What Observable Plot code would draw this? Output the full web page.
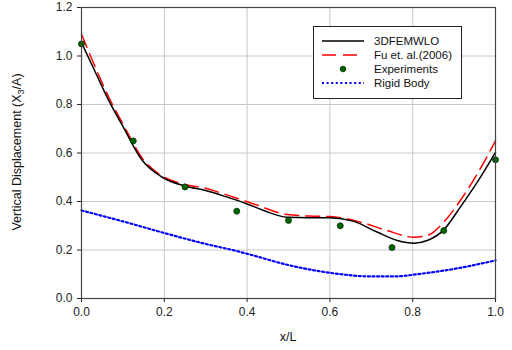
<!DOCTYPE html>
<html>
<head>
<meta charset="utf-8">
<script src="https://cdn.jsdelivr.net/npm/d3@7"></script>
<script src="https://cdn.jsdelivr.net/npm/@observablehq/plot@0.6"></script>
<style>
  html, body { margin: 0; padding: 0; background: #fff; }
  #wrap { position: relative; width: 512px; height: 350px; font-family: Arial, "Liberation Sans", sans-serif; }
  #legend { position: absolute; left: 0; top: 0; }
</style>
</head>
<body>
<div id="wrap"></div>
<script>
// 3DFEMWLO (solid black)
const femX = [0, 0.033, 0.066, 0.1, 0.147, 0.195, 0.25, 0.30, 0.348, 0.40, 0.44, 0.497, 0.55, 0.60, 0.658, 0.714, 0.763, 0.803, 0.835, 0.875, 0.915, 0.956, 1.0];
const femY = [1.055, 0.935, 0.816, 0.71, 0.569, 0.50, 0.464, 0.445, 0.42, 0.39, 0.363, 0.335, 0.333, 0.333, 0.318, 0.274, 0.239, 0.228, 0.239, 0.283, 0.377, 0.48, 0.603];
// Fu et. al.(2006) (red dashed)
const fuX = [0, 0.033, 0.066, 0.1, 0.147, 0.195, 0.25, 0.30, 0.344, 0.416, 0.497, 0.55, 0.60, 0.674, 0.738, 0.803, 0.835, 0.875, 0.915, 0.956, 1.0];
const fuY = [1.09, 0.955, 0.83, 0.72, 0.578, 0.505, 0.47, 0.455, 0.431, 0.39, 0.346, 0.34, 0.338, 0.315, 0.28, 0.253, 0.26, 0.315, 0.404, 0.514, 0.65];
// Experiments (green dots)
const expX = [0, 0.125, 0.25, 0.375, 0.5, 0.625, 0.75, 0.875, 1.0];
const expY = [1.05, 0.65, 0.46, 0.36, 0.322, 0.30, 0.21, 0.28, 0.572];
// Rigid Body (blue dotted)
const rigX = [0, 0.1, 0.2, 0.3, 0.379, 0.416, 0.497, 0.6, 0.7, 0.754, 0.819, 0.9, 1.0];
const rigY = [0.363, 0.318, 0.27, 0.225, 0.194, 0.177, 0.139, 0.106, 0.091, 0.091, 0.102, 0.122, 0.157];

const xTicks = [0, 0.2, 0.4, 0.6, 0.8, 1.0];
const yTicks = [0, 0.2, 0.4, 0.6, 0.8, 1.0, 1.2];
const xGrid = [0.2, 0.4, 0.6, 0.8];
const yGrid = [0.2, 0.4, 0.6, 0.8, 1.0];

const legendNames = ["3DFEMWLO", "Fu et. al.(2006)", "Experiments", "Rigid Body"];
const xTitle = "x/L";
const yTitleParts = ["Vertical Displacement (X", "3", "/A)"];

const zip = (xs, ys) => xs.map((x, i) => ({x, y: ys[i]}));
const fem = zip(femX, femY), fu = zip(fuX, fuY), exp = zip(expX, expY), rig = zip(rigX, rigY);

const chart = Plot.plot({
  width: 512,
  height: 350,
  marginLeft: 81,
  marginRight: 17,
  marginTop: 7,
  marginBottom: 52,
  style: {fontFamily: "Arial, 'Liberation Sans', sans-serif", fontSize: "12px", color: "#222", background: "#fff"},
  x: {domain: [0, 1], ticks: xTicks, tickFormat: d3.format(".1f"), tickSize: 4, tickPadding: 5, label: null},
  y: {domain: [0, 1.2], ticks: yTicks, tickFormat: d3.format(".1f"), tickSize: 4, tickPadding: 5, label: null},
  marks: [
    Plot.ruleX(xGrid, {stroke: "#c8c8c8", strokeWidth: 1}),
    Plot.ruleY(yGrid, {stroke: "#c8c8c8", strokeWidth: 1}),
    Plot.line(rig, {x: "x", y: "y", stroke: "#0000ff", strokeWidth: 2.2, strokeDasharray: "2,2.6", curve: "monotone-x"}),
    Plot.line(fu, {x: "x", y: "y", stroke: "#ff0000", strokeWidth: 1.5, strokeDasharray: "14,7", curve: "monotone-x"}),
    Plot.line(fem, {x: "x", y: "y", stroke: "#000", strokeWidth: 1.5, curve: "monotone-x"}),
    Plot.dot(exp, {x: "x", y: "y", r: 3, fill: "#006400", stroke: "#003000", strokeWidth: 0.8}),
    Plot.frame({stroke: "#444", strokeWidth: 1.2})
  ]
});
document.getElementById("wrap").appendChild(chart);

// overlay: axis titles and legend
const lg = d3.select("#wrap").append("svg").attr("id", "legend").attr("width", 512).attr("height", 350)
  .attr("font-family", "Arial, 'Liberation Sans', sans-serif");

lg.append("text").attr("x", 288).attr("y", 341).attr("text-anchor", "middle").attr("font-size", 12.5).attr("fill", "#111").text(xTitle);
const yt = lg.append("text").attr("transform", "translate(21,152) rotate(-90)").attr("text-anchor", "middle")
  .attr("font-size", 12.5).attr("fill", "#111");
yt.append("tspan").text(yTitleParts[0]);
yt.append("tspan").attr("font-size", 9).attr("dy", 3).text(yTitleParts[1]);
yt.append("tspan").attr("dy", -3).text(yTitleParts[2]);

lg.append("rect").attr("x", 313.5).attr("y", 26.5).attr("width", 148).attr("height", 72).attr("fill", "#fff").attr("stroke", "#222").attr("stroke-width", 1);
const rowY = [41, 55, 69, 83];
const styles = [
  {stroke: "#000", dash: null, w: 1.5},
  {stroke: "#ff0000", dash: "14,7", w: 1.5},
  null,
  {stroke: "#0000ff", dash: "2,2.6", w: 2.2}
];
legendNames.forEach((name, i) => {
  const s = styles[i];
  if (s) {
    lg.append("line").attr("x1", 322).attr("x2", 364).attr("y1", rowY[i]).attr("y2", rowY[i])
      .attr("stroke", s.stroke).attr("stroke-width", s.w).attr("stroke-dasharray", s.dash);
  } else {
    lg.append("circle").attr("cx", 343).attr("cy", rowY[i]).attr("r", 2.8).attr("fill", "#006400").attr("stroke", "#003000").attr("stroke-width", 0.8);
  }
  lg.append("text").attr("x", 374).attr("y", rowY[i]).attr("dy", "0.35em")
    .attr("font-size", 11.5).attr("fill", "#111").text(name);
});
</script>
</body>
</html>
